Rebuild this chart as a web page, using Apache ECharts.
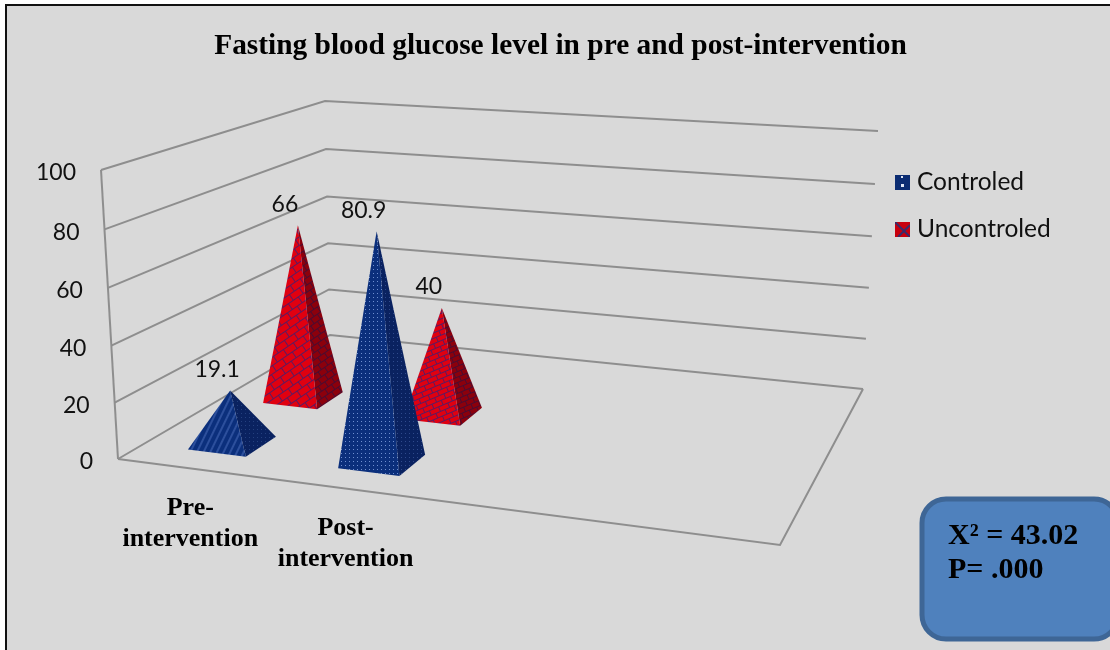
<!DOCTYPE html>
<html>
<head>
<meta charset="utf-8">
<style>
  html, body { margin: 0; padding: 0; background: #fff; }
  #chart { width: 1110px; height: 650px; }
</style>
<script src="https://cdn.jsdelivr.net/npm/echarts@6/dist/echarts.min.js"></script>
</head>
<body>
<div id="chart"></div>
<script>
const titleText = 'Fasting blood glucose level in pre and post-intervention'
const categories = ['Pre-\nintervention', 'Post-\nintervention', ' ', '  ']
const controled = [19.1, 80.9]
const uncontroled = [66, 40]
const ticks = [0, 20, 40, 60, 80, 100]
const statLines = ['X² = 43.02', 'P= .000']

const SERIF = '"Liberation Serif", "Times New Roman", serif'
const SANS = 'Lato, Carlito, Calibri, sans-serif'
const WALL = '#8e8e8e'

// corners of the floor and of the 100 level
const floorQuad = [[118, 459], [780, 545], [863, 389], [330, 335]]
const topQuad = [[101, 170], [785, 240], [878, 131], [325, 101]]

// unit square -> quad
const homography = q => {
  const [p0, p1, p2, p3] = q
  const dx1 = p1[0] - p2[0]
  const dx2 = p3[0] - p2[0]
  const sx = p0[0] - p1[0] + p2[0] - p3[0]
  const dy1 = p1[1] - p2[1]
  const dy2 = p3[1] - p2[1]
  const sy = p0[1] - p1[1] + p2[1] - p3[1]
  const det = dx1 * dy2 - dx2 * dy1
  const g = (sx * dy2 - dx2 * sy) / det
  const h = (dx1 * sy - sx * dy1) / det
  const a = p1[0] - p0[0] + g * p1[0]
  const b = p3[0] - p0[0] + h * p3[0]
  const d = p1[1] - p0[1] + g * p1[1]
  const e = p3[1] - p0[1] + h * p3[1]
  return (s, t) => {
    const w = g * s + h * t + 1
    return [(a * s + b * t + p0[0]) / w, (d * s + e * t + p0[1]) / w]
  }
}
const floorAt = homography(floorQuad)

// upright vector at a floor point, blended from the four corners
const upAt = (s, t, axis) => {
  const up = i => topQuad[i][axis] - floorQuad[i][axis]
  return (1 - s) * (1 - t) * up(0) + s * (1 - t) * up(1) + s * t * up(2) + (1 - s) * t * up(3)
}

// s: along the categories, t: depth, level: 0-1 of the value axis
const project = (s, t, level) => {
  const f = floorAt(s, t)
  // uprights are a bit stretched towards the top
  const l = level - 0.033 * level * (1 - level)
  return [f[0] + upAt(s, t, 0) * l, f[1] + upAt(s, t, 1) * l]
}

const GRID = { left: 118, top: 170, width: 662, height: 289 }
const toS = x => (x - GRID.left) / GRID.width
const toLevel = y => (GRID.top + GRID.height - y) / GRID.height

const DEPTH_SLOTS = 3
const BASE_S = 0.049
const BASE_T = 0.067

// textures
const makeTile = (w, h, draw) => {
  const c = document.createElement('canvas')
  c.width = w
  c.height = h
  draw(c.getContext('2d'))
  return c
}
const dotTile = (bg, dot) => makeTile(4, 4, ctx => {
  ctx.fillStyle = bg
  ctx.fillRect(0, 0, 4, 4)
  ctx.fillStyle = dot
  ctx.fillRect(1, 1, 1, 1)
})
const stripeTile = (bg, line) => makeTile(6, 3, ctx => {
  ctx.fillStyle = bg
  ctx.fillRect(0, 0, 6, 3)
  ctx.fillStyle = line
  ctx.fillRect(1, 0, 2, 3)
})
const brickTile = (w, h, bg, line) => makeTile(w * 2, h * 2, ctx => {
  ctx.fillStyle = bg
  ctx.fillRect(0, 0, w * 2, h * 2)
  ctx.fillStyle = line
  ctx.fillRect(0, 0, w * 2, 1)
  ctx.fillRect(0, h, w * 2, 1)
  ctx.fillRect(0, 0, 1, h)
  ctx.fillRect(w, 0, 1, h)
  ctx.fillRect(w / 2, h, 1, h)
  ctx.fillRect(w * 1.5, h, 1, h)
})
const pattern = (image, rotation) => ({ image, repeat: 'repeat', rotation: rotation || 0 })

// the texture stretches with the bar in the original, so one per value
const blueFront = [pattern(stripeTile('#0b2f7c', '#2c4f9c'), 0.45), pattern(dotTile('#0b2f7c', '#6f8fd0'))]
const blueSide = [pattern(dotTile('#0a2260', '#24407f')), pattern(dotTile('#0a2260', '#2f4a8c'))]
const redFront = [pattern(brickTile(12, 7, '#e00010', '#5c1a60'), -0.6), pattern(brickTile(10, 5, '#e00010', '#5c1a60'), -0.4)]
const redSide = [pattern(brickTile(8, 6, '#8c000c', '#4a0c30'), -0.6), pattern(brickTile(8, 5, '#8c000c', '#4a0c30'), -0.4)]

const legendBlue = makeTile(15, 15, ctx => {
  ctx.fillStyle = '#0b2c72'
  ctx.fillRect(0, 0, 15, 15)
  ctx.fillStyle = '#dfe6f5'
  ctx.fillRect(6, 9, 3, 3)
  ctx.fillRect(6, 1, 2, 2)
})
const legendRed = makeTile(15, 15, ctx => {
  ctx.fillStyle = '#c8000e'
  ctx.fillRect(0, 0, 15, 15)
  ctx.strokeStyle = '#3a2a6a'
  ctx.lineWidth = 2
  ctx.beginPath()
  ctx.moveTo(0, 0)
  ctx.lineTo(15, 15)
  ctx.moveTo(15, 3)
  ctx.lineTo(3, 15)
  ctx.stroke()
})

// one pyramid per value, apex height comes from the value axis
const pyramidItem = (depthIndex, front, side) => (params, api) => {
  const pos = api.coord([api.value(0), api.value(1)])
  const s = toS(pos[0])
  const level = toLevel(pos[1])
  const t = (depthIndex + 0.5) / DEPTH_SLOTS
  const fl = project(s - BASE_S, t - BASE_T, 0)
  const fr = project(s + BASE_S, t - BASE_T, 0)
  const br = project(s + BASE_S, t + BASE_T, 0)
  const apex = project(s, t, level)
  return {
    type: 'group',
    children: [
      { type: 'polygon', shape: { points: [fr, br, apex] }, style: { fill: side[params.dataIndex] } },
      { type: 'polygon', shape: { points: [fl, fr, apex] }, style: { fill: front[params.dataIndex] } },
      {
        type: 'text',
        style: {
          text: String(api.value(1)),
          x: apex[0] - 13,
          y: apex[1] - 21,
          align: 'center',
          verticalAlign: 'middle',
          fill: '#111',
          font: '23px ' + SANS
        }
      }
    ]
  }
}

const wallItem = (params, api) => {
  const pos = api.coord([0, api.value(1)])
  const level = toLevel(pos[1])
  const pts = [project(0, 0, level), project(0, 1, level), project(1, 1, level)]
  return {
    type: 'group',
    children: [
      { type: 'polyline', shape: { points: pts }, style: { fill: null, stroke: WALL, lineWidth: 2 } },
      {
        type: 'text',
        style: {
          text: String(api.value(1)),
          x: pts[0][0] - 25,
          y: pts[0][1] + 3,
          align: 'right',
          verticalAlign: 'middle',
          fill: '#111',
          font: '23px ' + SANS
        }
      }
    ]
  }
}

// floor edges and the left upright, at the two extremes of the value axis
const frameItem = () => ({
  type: 'group',
  children: [
    { type: 'polyline', shape: { points: [project(0, 0, 0), project(1, 0, 0), project(1, 1, 0)] }, style: { fill: null, stroke: WALL, lineWidth: 2 } },
    { type: 'polyline', shape: { points: [project(0, 0, 0), project(0, 0, 1)] }, style: { fill: null, stroke: WALL, lineWidth: 2 } }
  ]
})

const categoryItem = (params, api) => {
  const pos = api.coord([api.value(0), 0])
  const p = project(toS(pos[0]), 0, 0)
  return {
    type: 'text',
    style: {
      text: categories[params.dataIndex],
      x: p[0] - 2,
      y: p[1] + 55,
      align: 'center',
      verticalAlign: 'middle',
      lineHeight: 31,
      fill: '#000',
      font: 'bold 26px ' + SERIF
    }
  }
}

const chart = echarts.init(document.getElementById('chart'))
chart.setOption({
  animation: false,
  backgroundColor: '#fff',
  title: {
    text: titleText,
    left: 555.5,
    top: 27,
    textAlign: 'center',
    textStyle: { fontFamily: SERIF, fontWeight: 'bold', fontSize: 29.4, color: '#000' }
  },
  legend: {
    orient: 'vertical',
    left: 890,
    top: 165,
    itemWidth: 15,
    itemHeight: 15,
    itemGap: 22,
    icon: 'rect',
    textStyle: { fontFamily: SANS, fontSize: 24.5, color: '#111', padding: [0, 0, 0, 2] },
    data: [
      { name: 'Controled', itemStyle: { color: { image: legendBlue, repeat: 'no-repeat' } } },
      { name: 'Uncontroled', itemStyle: { color: { image: legendRed, repeat: 'no-repeat' } } }
    ]
  },
  grid: GRID,
  xAxis: { type: 'category', data: categories, show: false },
  yAxis: { type: 'value', min: 0, max: 100, interval: 20, show: false },
  graphic: [
    {
      type: 'rect',
      z: -10,
      shape: { x: 6, y: 5, width: 1200, height: 700 },
      style: { fill: '#d9d9d9', stroke: '#111', lineWidth: 2 }
    },
    {
      type: 'rect',
      z: 20,
      shape: { x: 922, y: 499, width: 196, height: 140, r: 24 },
      style: { fill: '#4f81bd', stroke: '#3e6696', lineWidth: 5 }
    },
    {
      type: 'text',
      z: 21,
      style: {
        text: statLines.join('\n'),
        x: 948,
        y: 519,
        lineHeight: 34,
        fill: '#000',
        font: 'bold 30px ' + SERIF
      }
    }
  ],
  series: [
    {
      name: 'walls',
      type: 'custom',
      renderItem: wallItem,
      z: 1,
      silent: true,
      data: ticks.map(v => [0, v])
    },
    {
      name: 'frame',
      type: 'custom',
      renderItem: frameItem,
      z: 1,
      silent: true,
      data: [[0, 0]]
    },
    {
      name: 'categoryLabels',
      type: 'custom',
      renderItem: categoryItem,
      z: 1,
      silent: true,
      data: [[0, 0], [1, 0]]
    },
    {
      name: 'Uncontroled',
      type: 'custom',
      renderItem: pyramidItem(1, redFront, redSide),
      z: 2,
      data: uncontroled.map((v, i) => [i, v])
    },
    {
      name: 'Controled',
      type: 'custom',
      renderItem: pyramidItem(0, blueFront, blueSide),
      z: 3,
      data: controled.map((v, i) => [i, v])
    }
  ]
})
</script>
</body>
</html>
